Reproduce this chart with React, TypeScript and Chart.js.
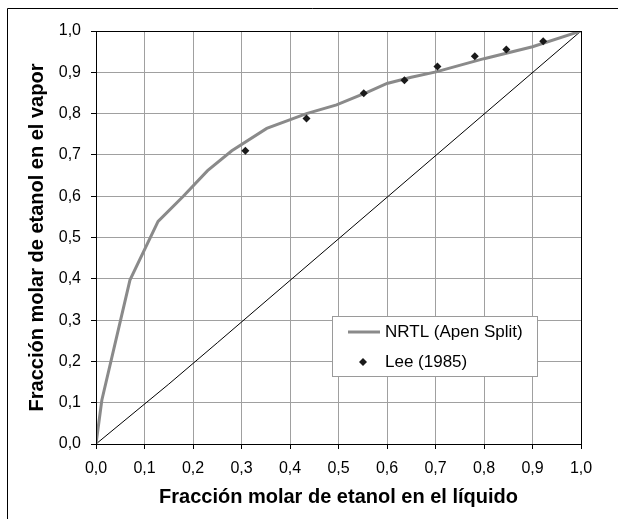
import React, { useEffect, useRef } from "react";
import { Chart, registerables } from "chart.js";

Chart.register(...registerables);

// NRTL (Apen Split) model curve
const nrtlX = [0, 0.012, 0.07, 0.128, 0.18, 0.23, 0.28, 0.352, 0.434, 0.496, 0.56, 0.6, 0.65, 0.701, 0.8, 0.9, 1];
const nrtlY = [0, 0.106, 0.397, 0.539, 0.6, 0.662, 0.71, 0.764, 0.8, 0.821, 0.852, 0.873, 0.888, 0.901, 0.933, 0.962, 1];

// Lee (1985) experimental points
const leeX = [0.308, 0.434, 0.552, 0.636, 0.704, 0.781, 0.846, 0.922];
const leeY = [0.71, 0.788, 0.849, 0.881, 0.914, 0.939, 0.955, 0.975];

// y = x diagonal
const diagX = [0, 0.15, 0.25, 1];
const diagY = [0, 0.145, 0.245, 1];

const tickValues = [0, 0.1, 0.2, 0.3, 0.4, 0.5, 0.6, 0.7, 0.8, 0.9, 1.0];

const xTitle = "Fracción molar de etanol en el líquido";
const yTitle = "Fracción molar de etanol en el vapor";
const nrtlLabel = "NRTL (Apen Split)";
const leeLabel = "Lee (1985)";

const FONT = "'Liberation Sans', Arial, sans-serif";
const fmt = (v: number) => Number(v).toFixed(1).replace(".", ",");

const zip = (xs: number[], ys: number[]) => xs.map((x, i) => ({ x, y: ys[i] }));

export default function App() {
  const ref = useRef<HTMLCanvasElement | null>(null);

  useEffect(() => {
    if (!ref.current) return;

    const framePlugin = {
      id: "frame",
      beforeDraw(chart: any) {
        const ctx = chart.ctx;
        ctx.save();
        ctx.fillStyle = "#fff";
        ctx.fillRect(0, 0, chart.width, chart.height);
        ctx.strokeStyle = "#000";
        ctx.lineWidth = 1;
        ctx.beginPath();
        ctx.moveTo(7.5, chart.height);
        ctx.lineTo(7.5, 8.5);
        ctx.lineTo(chart.width, 8.5);
        ctx.stroke();
        ctx.restore();
      },
      afterDraw(chart: any) {
        const ctx = chart.ctx;
        const a = chart.chartArea;
        ctx.save();
        ctx.strokeStyle = "#000";
        ctx.lineWidth = 1;
        ctx.strokeRect(Math.round(a.left) + 0.5, Math.round(a.top) + 0.5, Math.round(a.right - a.left), Math.round(a.bottom - a.top));
        // legend
        const ds = chart.data.datasets;
        const bx = 332, by = 316, bw = 205, bh = 60;
        ctx.fillStyle = "#fff";
        ctx.fillRect(bx, by, bw, bh);
        ctx.strokeStyle = "#9a9a9a";
        ctx.strokeRect(bx + 0.5, by + 0.5, bw, bh);
        ctx.strokeStyle = ds[0].borderColor;
        ctx.lineWidth = ds[0].borderWidth;
        ctx.beginPath();
        ctx.moveTo(348, 332);
        ctx.lineTo(380, 332);
        ctx.stroke();
        ctx.fillStyle = ds[1].backgroundColor;
        const r = 4;
        ctx.beginPath();
        ctx.moveTo(363, 362 - r);
        ctx.lineTo(363 + r, 362);
        ctx.lineTo(363, 362 + r);
        ctx.lineTo(363 - r, 362);
        ctx.closePath();
        ctx.fill();
        ctx.fillStyle = "#000";
        ctx.font = `17px ${FONT}`;
        ctx.textBaseline = "middle";
        ctx.textAlign = "left";
        ctx.fillText(ds[0].label, 385, 332);
        ctx.fillText(ds[1].label, 385, 362);
        ctx.restore();
      },
    };

    const chart = new Chart(ref.current, {
      type: "scatter",
      data: {
        datasets: [
          {
            label: nrtlLabel,
            data: zip(nrtlX, nrtlY),
            showLine: true,
            borderColor: "#8a8a8a",
            borderWidth: 3,
            pointRadius: 0,
            fill: false,
            tension: 0,
            order: 2,
          },
          {
            label: leeLabel,
            data: zip(leeX, leeY),
            showLine: false,
            pointStyle: "rectRot",
            pointRadius: 4,
            backgroundColor: "#1a1a1a",
            borderColor: "#1a1a1a",
            borderWidth: 0,
            order: 1,
          },
          {
            label: "diag",
            data: zip(diagX, diagY),
            showLine: true,
            borderColor: "#000",
            borderWidth: 1,
            pointRadius: 0,
            fill: false,
            order: 3,
          },
        ],
      },
      options: {
        animation: false,
        responsive: false,
        maintainAspectRatio: false,
        layout: { padding: { top: 31, right: 37, left: 0, bottom: 0 } },
        plugins: { legend: { display: false }, tooltip: { enabled: false } },
        scales: {
          x: {
            type: "linear",
            min: 0,
            max: 1,
            afterBuildTicks: (s: any) => {
              s.ticks = tickValues.map((v) => ({ value: v }));
            },
            afterFit: (s: any) => {
              s.height = 75;
            },
            grid: { color: "#a0a0a0", tickColor: "#000", tickLength: 5, lineWidth: 1 },
            border: { color: "#000", width: 1 },
            ticks: {
              font: { family: FONT, size: 16 },
              color: "#000",
              padding: 10,
              maxRotation: 0,
              autoSkip: false,
              callback: (v: any) => fmt(v),
            },
            title: {
              display: true,
              text: xTitle,
              color: "#000",
              font: { family: FONT, size: 20, weight: "bold" },
              padding: { top: 0, bottom: 10 },
            },
          },
          y: {
            type: "linear",
            min: 0,
            max: 1,
            afterBuildTicks: (s: any) => {
              s.ticks = tickValues.map((v) => ({ value: v }));
            },
            afterFit: (s: any) => {
              s.width = 96;
            },
            grid: { color: "#a0a0a0", tickColor: "#000", tickLength: 5, lineWidth: 1 },
            border: { color: "#000", width: 1 },
            ticks: {
              font: { family: FONT, size: 16 },
              color: "#000",
              padding: 10,
              autoSkip: false,
              callback: (v: any) => fmt(v),
            },
            title: {
              display: true,
              text: yTitle,
              color: "#000",
              font: { family: FONT, size: 20, weight: "bold" },
              padding: { top: 25, bottom: 0 },
            },
          },
        },
      },
      plugins: [framePlugin],
    } as any);

    return () => chart.destroy();
  }, []);

  return (
    <div style={{ position: "absolute", left: 0, top: 0, width: 618, height: 519 }}>
      <canvas ref={ref} width={618} height={519} style={{ display: "block", width: 618, height: 519 }} />
    </div>
  );
}
